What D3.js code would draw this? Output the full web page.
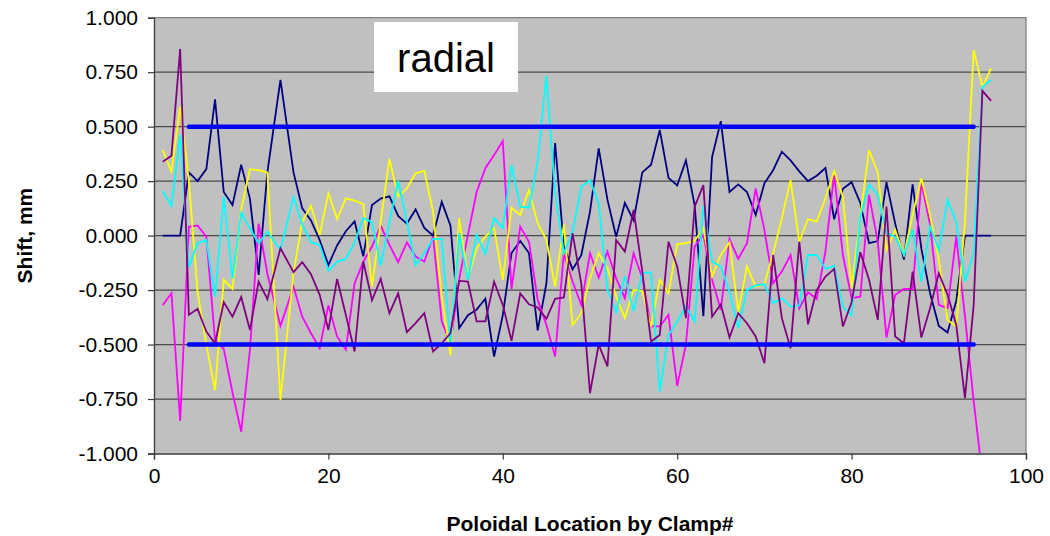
<!DOCTYPE html>
<html>
<head>
<meta charset="utf-8">
<script src="https://cdn.jsdelivr.net/npm/d3@7"></script>
<style>
  body { margin: 0; background: #fff; }
  svg { display: block; }
  text { font-family: "Liberation Sans", Arial, sans-serif; fill: #000; }
</style>
</head>
<body>
<svg id="chart" width="1050" height="536"></svg>
<script>
// Clamp positions around the poloidal circuit
const clamps = [1, 2, 3, 4, 5, 6, 7, 8, 9, 10, 11, 12, 13, 14.5,
  16, 17, 18, 19, 20, 21, 22, 23, 24, 25,
  26, 27, 28, 29, 30, 31, 32, 33, 34, 35,
  36, 37, 38, 39, 40, 41, 42, 43, 44, 45,
  46, 47, 48, 49, 50, 51, 52, 53, 54, 55,
  56, 57, 58, 59, 60, 61, 62, 63, 64, 65,
  66, 67, 68, 69, 70, 71, 72, 73, 74, 75,
  76, 77, 78, 79, 80, 81, 82, 83, 84, 85,
  86, 87, 88, 89, 90, 91, 92, 93, 94, 95,
  96];

// Radial shift (mm) per clamp, one array per measurement set
const shiftNavy = [0, 0, 0, 0.29, 0.25, 0.305, 0.625, 0.20, 0.14, 0.325, 0.17, -0.18, 0.29, 0.715,
  0.29, 0.125, 0.07, -0.02, -0.135, -0.045, 0.02, 0.065, -0.095, 0.14,
  0.17, 0.18, 0.09, 0.055, 0.12, 0.035, 0.0, 0.155, 0.045, -0.425,
  -0.365, -0.34, -0.29, -0.555, -0.365, -0.08, -0.025, -0.08, -0.435, -0.22,
  0.425, -0.05, -0.155, -0.09, 0.11, 0.40, 0.165, -0.005, 0.15, 0.07,
  0.29, 0.325, 0.485, 0.265, 0.23, 0.345, 0.14, -0.37, 0.36, 0.525,
  0.20, 0.235, 0.20, 0.095, 0.24, 0.30, 0.385, 0.345, 0.295, 0.25,
  0.275, 0.31, 0.075, 0.215, 0.245, 0.15, -0.035, -0.025, 0.245, 0.055,
  -0.11, 0.235, -0.06, -0.265, -0.415, -0.445, -0.30, 0, 0, 0,
  0];

const shiftMagenta = [-0.32, -0.265, -0.85, 0.04, 0.047, -0.005, -0.48, -0.52, -0.72, -0.90, -0.525, 0.055, -0.175, -0.415,
  -0.235, -0.372, -0.448, -0.517, -0.32, -0.463, -0.524, -0.22, -0.12, -0.05,
  0.046, -0.043, -0.122, -0.031, -0.096, -0.119, -0.005, -0.394, -0.494, -0.2,
  0.003, 0.2, 0.309, 0.37, 0.434, -0.245, 0.041, -0.028, -0.295, -0.41,
  -0.555, -0.081, -0.211, -0.318, -0.081, -0.193, -0.073, -0.196, -0.287, -0.081,
  -0.196, -0.417, -0.417, -0.364, -0.69, -0.50, -0.05, 0.003, -0.203, -0.341,
  -0.015, -0.107, -0.035, 0.217, 0.026, -0.219, -0.165, -0.089, -0.333, -0.26,
  -0.29, -0.073, 0.281, -0.089, -0.287, -0.28, 0.187, -0.028, -0.468, -0.272,
  -0.245, -0.245, 0.245, 0.049, -0.318, -0.333, -0.005, -0.37, -0.76, -1.10];

const shiftYellow = [0.393, 0.294, 0.592, 0.25, -0.26, -0.50, -0.71, -0.203, -0.245, 0.12, 0.305, 0.30, 0.29, -0.754,
  -0.17, 0.064, 0.137, 0.003, 0.194, 0.076, 0.171, 0.161, 0.144, -0.234,
  0.064, 0.352, 0.179, 0.217, 0.286, 0.297, 0.110, -0.28, -0.55, 0.08,
  -0.196, -0.058, -0.005, 0.034, -0.203, 0.128, 0.095, 0.209, 0.057, -0.02,
  -0.234, 0.052, -0.41, -0.356, -0.195, -0.081, -0.15, -0.28, -0.379, -0.249,
  -0.254, -0.417, -0.203, -0.265, -0.04, -0.035, -0.024, 0.034, -0.188, -0.089,
  -0.031, -0.349, -0.142, -0.234, -0.223, -0.081, 0.08, 0.255, -0.028, 0.076,
  0.064, 0.171, 0.297, 0.179, -0.242, 0.087, 0.393, 0.29, -0.066, 0.026,
  -0.089, 0.095, 0.263, 0.095, -0.112, -0.387, -0.417, 0.064, 0.852, 0.683,
  0.768];

const shiftCyan = [0.205, 0.136, 0.462, -0.145, -0.035, -0.02, -0.28, 0.179, -0.196, 0.106, 0.034, -0.035, 0.018, -0.066,
  0.178, 0.05, -0.03, -0.043, -0.162, -0.119, -0.107, -0.032, 0.08, 0.062,
  -0.138, 0.064, 0.252, 0.064, -0.135, -0.081, -0.015, -0.015, -0.50, 0.011,
  -0.203, 0.003, -0.083, 0.08, 0.034, 0.324, 0.133, 0.128, 0.339, 0.734,
  0.20, -0.081, 0.018, 0.225, 0.253, 0.148, -0.249, -0.352, -0.188, -0.346,
  -0.173, -0.168, -0.716, -0.456, -0.394, -0.326, -0.394, 0.137, -0.119, -0.142,
  -0.257, -0.425, -0.249, -0.229, -0.223, -0.31, -0.287, -0.326, -0.321, -0.089,
  -0.089, -0.153, -0.138, -0.326, -0.367, 0.087, 0.235, 0.187, 0.011, -0.005,
  -0.089, 0.026, -0.211, 0.041, -0.066, 0.164, 0.064, -0.211, -0.081, 0.683,
  0.714];

const shiftPurple = [0.339, 0.367, 0.856, -0.364, -0.336, -0.44, -0.494, -0.306, -0.372, -0.282, -0.433, -0.211, -0.292, -0.058,
  -0.168, -0.122, -0.177, -0.272, -0.433, -0.199, -0.364, -0.532, -0.119, -0.297,
  -0.199, -0.356, -0.265, -0.443, -0.402, -0.356, -0.532, -0.494, -0.448, -0.208,
  -0.211, -0.394, -0.394, -0.211, -0.318, -0.483, -0.265, -0.315, -0.33, -0.382,
  -0.29, -0.284, 0.011, -0.22, -0.723, -0.50, -0.60, -0.02, -0.073, 0.118,
  -0.165, -0.486, -0.456, -0.028, -0.142, -0.379, 0.133, 0.232, -0.372, -0.315,
  -0.468, -0.356, -0.402, -0.463, -0.586, -0.089, -0.379, -0.517, -0.028, -0.407,
  -0.25, -0.188, -0.153, -0.417, -0.306, -0.076, -0.203, -0.387, 0.133, -0.463,
  -0.494, -0.165, -0.468, -0.333, -0.173, -0.27, -0.41, -0.746, -0.318, 0.664,
  0.618];

// Tolerance band (+/- 0.5 mm) spanning clamps 4 to 94
const limitClamps = [4, 94];
const limitValues = [0.5, -0.5];

const xTicks = [0, 20, 40, 60, 80, 100];
const yTicks = [-1, -0.75, -0.5, -0.25, 0, 0.25, 0.5, 0.75, 1];
const xTitle = "Poloidal Location by Clamp#";
const yTitle = "Shift, mm";
const panelLabel = "radial";

const series = [
  { values: shiftNavy, color: "#000080" },
  { values: shiftMagenta, color: "#FF00FF" },
  { values: shiftYellow, color: "#FFFF00" },
  { values: shiftCyan, color: "#00FFFF" },
  { values: shiftPurple, color: "#800080" }
];

const plot = { left: 154, right: 1026, top: 17.7, bottom: 453.5 };

const svg = d3.select("#chart");
const x = d3.scaleLinear().domain([0, 100]).range([plot.left, plot.right]);
const y = d3.scaleLinear().domain([-1, 1]).range([plot.bottom, plot.top]);

const fmt = d3.formatLocale({ decimal: ".", thousands: ",", grouping: [3], currency: ["", ""], minus: "-" }).format(".3f");

// plot background
svg.append("rect")
  .attr("x", plot.left).attr("y", plot.top)
  .attr("width", plot.right - plot.left).attr("height", plot.bottom - plot.top)
  .attr("fill", "#C0C0C0");

// horizontal gridlines
svg.append("g")
  .selectAll("line")
  .data(yTicks.filter(v => v > -1 && v < 1))
  .join("line")
  .attr("x1", plot.left).attr("x2", plot.right)
  .attr("y1", d => y(d)).attr("y2", d => y(d))
  .attr("stroke", "#4a4a4a").attr("stroke-width", 1.3);

// plot frame (top and right)
svg.append("path")
  .attr("d", `M${plot.left},${plot.top}H${plot.right}V${plot.bottom}`)
  .attr("fill", "none").attr("stroke", "#808080").attr("stroke-width", 1.3);

// clip region for data lines
svg.append("clipPath").attr("id", "plotClip")
  .append("rect")
  .attr("x", plot.left).attr("y", plot.top)
  .attr("width", plot.right - plot.left).attr("height", plot.bottom - plot.top);

const lineGen = d3.line()
  .x(d => x(d[0]))
  .y(d => y(d[1]));

const dataLayer = svg.append("g").attr("clip-path", "url(#plotClip)");

series.forEach(s => {
  const pts = s.values.map((v, i) => [clamps[i], v]);
  dataLayer.append("path")
    .datum(pts)
    .attr("d", lineGen)
    .attr("fill", "none")
    .attr("stroke", s.color)
    .attr("stroke-width", 1.8)
    .attr("stroke-linejoin", "miter");
});

// tolerance band lines
limitValues.forEach(v => {
  dataLayer.append("path")
    .datum(limitClamps.map(c => [c, v]))
    .attr("d", lineGen)
    .attr("fill", "none")
    .attr("stroke", "#0000FF")
    .attr("stroke-width", 4.5)
    .attr("stroke-linecap", "round");
});

// axes
const xAxis = d3.axisBottom(x).tickValues(xTicks).tickSize(6).tickPadding(9).tickFormat(d3.format("d"));
const yAxis = d3.axisLeft(y).tickValues(yTicks).tickSize(6).tickPadding(10).tickFormat(fmt);

const gx = svg.append("g").attr("transform", `translate(0,${plot.bottom})`).call(xAxis);
const gy = svg.append("g").attr("transform", `translate(${plot.left},0)`).call(yAxis);

[gx, gy].forEach(g => {
  g.select(".domain").attr("stroke", "#3a3a3a").attr("stroke-width", 1.3);
  g.selectAll(".tick line").attr("stroke", "#3a3a3a").attr("stroke-width", 1.2);
  g.selectAll(".tick text")
    .attr("font-family", "'Liberation Sans', Arial, sans-serif")
    .attr("font-size", 21)
    .attr("fill", "#000");
});

// axis titles
svg.append("text")
  .attr("x", (plot.left + plot.right) / 2)
  .attr("y", 531)
  .attr("text-anchor", "middle")
  .attr("font-size", 21)
  .attr("font-weight", "bold")
  .text(xTitle);

svg.append("text")
  .attr("transform", `translate(32,${(plot.top + plot.bottom) / 2}) rotate(-90)`)
  .attr("text-anchor", "middle")
  .attr("font-size", 21)
  .attr("font-weight", "bold")
  .text(yTitle);

// panel label box
svg.append("rect")
  .attr("x", 374).attr("y", 22)
  .attr("width", 144).attr("height", 70)
  .attr("fill", "#fff");

svg.append("text")
  .attr("x", 446).attr("y", 72)
  .attr("text-anchor", "middle")
  .attr("font-size", 40)
  .text(panelLabel);
</script>
</body>
</html>
